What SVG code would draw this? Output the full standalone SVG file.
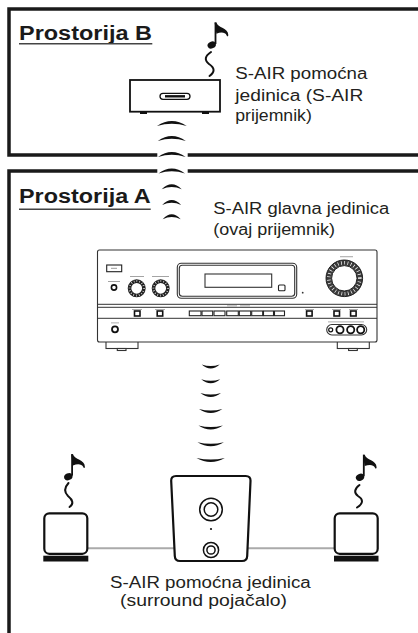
<svg xmlns="http://www.w3.org/2000/svg" width="418" height="633" viewBox="0 0 418 633">
  <style>
    .room { fill: none; stroke: #1a1a1a; stroke-width: 3.5; }
    .title { font-family: "Liberation Sans", Arial, sans-serif; font-weight: bold; font-size: 20px; fill: #1a1a1a; }
    .label { font-family: "Liberation Sans", Arial, sans-serif; font-size: 16px; fill: #231f20; }
    .uline { stroke: #444; stroke-width: 1.6; }
    .wave { fill: #111; }
    .squig { fill: none; stroke: #111; stroke-width: 2; stroke-linecap: round; }
    .box { fill: #fff; stroke: #111; stroke-width: 2.2; }
    .rx { fill: #fff; stroke: #333; stroke-width: 1.1; }
    .rxl { stroke: #333; stroke-width: 1; }
    .btn { fill: #fff; stroke: #222; stroke-width: 1.1; }
    .sq { fill: #fff; stroke: #111; stroke-width: 1.6; }
    .tiny { fill: #9a9a9a; }
    .wire { stroke: #aaa; stroke-width: 2; }
  </style>
  <defs>
    <!-- eighth note, origin at the note head -->
    <g id="note">
      <ellipse cx="0" cy="0" rx="4.3" ry="3.4" transform="rotate(-25)" fill="#111"/>
      <rect x="2.9" y="-22.5" width="1.8" height="21.5" fill="#111"/>
      <path d="M2.9,-22.5 L4.7,-22.5 C6,-17 16.6,-17.5 16.6,-10 C16.6,-8.4 15.2,-8.4 15,-9.6 C13.5,-13 9,-13 4.7,-11.3 Z" fill="#111"/>
    </g>
  </defs>

  <!-- room outlines -->
  <g id="room-b">
    <path class="room" d="M418,9 H9 V155 H157.3 M187.7,155 H418"/>
    <text class="title" x="19" y="40.3" textLength="133" lengthAdjust="spacingAndGlyphs">Prostorija B</text>
    <line class="uline" x1="19" y1="43.8" x2="152.3" y2="43.8"/>
  </g>
  <g id="room-a">
    <path class="room" d="M157.3,171 H9 V633 M187.7,171 H418"/>
    <text class="title" x="19" y="203.3" textLength="131.7" lengthAdjust="spacingAndGlyphs">Prostorija A</text>
    <line class="uline" x1="19" y1="209.2" x2="150.7" y2="209.2"/>
  </g>

  <!-- wireless links -->
  <g id="connectors">
    <!-- link between the main unit and the room B receiver -->
    <path class="wave" d="M157,126 Q171.8,116 186.7,126 Q171.8,121.5 157,126 Z"/>
    <path class="wave" d="M157.8,141 Q171.8,131 185.8,141 Q171.8,136.5 157.8,141 Z"/>
    <path class="wave" d="M158,157 Q171.8,147 185.6,157 Q171.8,152.5 158,157 Z"/>
    <path class="wave" d="M158.5,173.5 Q171.8,163.5 185,173.5 Q171.8,169 158.5,173.5 Z"/>
    <path class="wave" d="M161.7,189.2 Q171.7,179.2 181.7,189.2 Q171.7,184.7 161.7,189.2 Z"/>
    <path class="wave" d="M162.2,204.9 Q171.7,194.9 181.2,204.9 Q171.7,200.4 162.2,204.9 Z"/>
    <path class="wave" d="M162.7,219.2 Q171.7,209.2 180.7,219.2 Q171.7,214.7 162.7,219.2 Z"/>
    <!-- link between the main unit and the surround amplifier -->
    <path class="wave" d="M201.7,364.6 Q210.7,372.6 219.7,364.6 Q210.7,367.6 201.7,364.6 Z"/>
    <path class="wave" d="M201.2,379.2 Q210.7,387.2 220.2,379.2 Q210.7,382.2 201.2,379.2 Z"/>
    <path class="wave" d="M200.4,392.9 Q210.7,400.9 221,392.9 Q210.7,395.9 200.4,392.9 Z"/>
    <path class="wave" d="M199,408.9 Q210.7,416.9 222.4,408.9 Q210.7,411.9 199,408.9 Z"/>
    <path class="wave" d="M198.5,425.5 Q210.7,433.5 222.9,425.5 Q210.7,428.5 198.5,425.5 Z"/>
    <path class="wave" d="M197.5,442.2 Q210.7,450.2 223.9,442.2 Q210.7,445.2 197.5,442.2 Z"/>
    <path class="wave" d="M196.5,458 Q210.7,466 224.9,458 Q210.7,461 196.5,458 Z"/>
    <!-- speaker wires -->
    <line class="wire" x1="88" y1="548.3" x2="174" y2="548.3"/>
    <line class="wire" x1="247.5" y1="548.3" x2="335" y2="548.3"/>
  </g>

  <!-- S-AIR receiver in room B -->
  <g id="unit-b">
    <use href="#note" x="211.7" y="45"/>
    <path class="squig" d="M211,52 C205,56 204,60 209,64 C215,68 215,72 209.5,76"/>
    <rect x="140" y="111" width="7" height="3" fill="#111"/>
    <rect x="202" y="111" width="7" height="3" fill="#111"/>
    <rect x="130" y="80" width="90" height="31.7" fill="#fff" stroke="#111" stroke-width="1.8"/>
    <rect x="160" y="93.3" width="30" height="6" rx="3" fill="#fff" stroke="#111" stroke-width="1.3"/>
    <line x1="165" y1="96.3" x2="185" y2="96.3" stroke="#111" stroke-width="2.4"/>
    <text class="label" x="235.3" y="79.3" textLength="132" lengthAdjust="spacingAndGlyphs">S-AIR pomoćna</text>
    <text class="label" x="235.3" y="101" textLength="128" lengthAdjust="spacingAndGlyphs">jedinica (S-AIR</text>
    <text class="label" x="235.3" y="121" textLength="76.5" lengthAdjust="spacingAndGlyphs">prijemnik)</text>
  </g>

  <!-- main unit (this receiver) -->
  <g id="receiver">
    <text class="label" x="213.3" y="214" textLength="176" lengthAdjust="spacingAndGlyphs">S-AIR glavna jedinica</text>
    <text class="label" x="213.3" y="234.5" textLength="121.7" lengthAdjust="spacingAndGlyphs">(ovaj prijemnik)</text>
    <!-- feet -->
    <rect class="rx" x="106" y="341" width="32" height="7.5"/>
    <rect class="rx" x="117.3" y="348.5" width="8.7" height="2"/>
    <rect class="rx" x="337.3" y="341" width="32" height="7.5"/>
    <rect class="rx" x="348.6" y="348.5" width="8.7" height="2"/>
    <!-- chassis -->
    <rect class="rx" x="97.5" y="250" width="279.5" height="92" rx="2"/>
    <line class="rxl" x1="97.5" y1="304.3" x2="377" y2="304.3"/>
    <line class="rxl" x1="97.5" y1="307.3" x2="377" y2="307.3"/>
    <line class="rxl" x1="97.5" y1="318.3" x2="377" y2="318.3"/>
    <!-- power and small controls -->
    <rect class="btn" x="106.7" y="265" width="15" height="6.7"/>
    <rect class="tiny" x="111" y="267.8" width="6" height="1"/>
    <rect class="tiny" x="108" y="281" width="12" height="0.9"/>
    <circle cx="114" cy="287.5" r="2.6" fill="#fff" stroke="#111" stroke-width="1.6"/>
    <!-- small knobs -->
    <rect class="tiny" x="130" y="276" width="14" height="0.9"/>
    <rect class="tiny" x="152" y="276" width="17" height="0.9"/>
    <circle cx="136.7" cy="288.3" r="7.2" fill="#fff" stroke="#222" stroke-width="3.6"/>
    <circle cx="136.7" cy="288.3" r="7.2" fill="none" stroke="#fff" stroke-width="2" stroke-dasharray="0.6 2.2"/>
    <circle cx="160.7" cy="288.3" r="7.2" fill="#fff" stroke="#222" stroke-width="3.6"/>
    <circle cx="160.7" cy="288.3" r="7.2" fill="none" stroke="#fff" stroke-width="2" stroke-dasharray="0.6 2.2"/>
    <!-- display -->
    <rect class="rx" x="177.3" y="263.3" width="119.4" height="35" rx="4"/>
    <rect class="rx" x="179.3" y="265.3" width="115.4" height="31" rx="3"/>
    <rect class="rx" x="205" y="274" width="66.7" height="13.3"/>
    <rect class="btn" x="278.5" y="285" width="6.5" height="5.7" rx="1"/>
    <circle cx="302.7" cy="292.7" r="0.9" fill="#333"/>
    <!-- volume knob -->
    <rect class="tiny" x="340" y="256.3" width="13" height="0.9"/>
    <circle cx="344.3" cy="278.3" r="15.5" fill="#fff" stroke="#3a3a3a" stroke-width="5.6"/>
    <circle cx="344.3" cy="278.3" r="15.5" fill="none" stroke="#fff" stroke-width="3.6" stroke-dasharray="0.7 2.6"/>
    <circle cx="344.3" cy="278.3" r="18.3" fill="none" stroke="#222" stroke-width="1"/>
    <circle cx="344.3" cy="278.3" r="12.7" fill="none" stroke="#222" stroke-width="1"/>
    <!-- button row -->
    <rect class="tiny" x="132" y="309" width="10" height="0.8"/>
    <rect class="tiny" x="155" y="309" width="10" height="0.8"/>
    <rect class="tiny" x="227" y="305.5" width="10" height="0.8"/>
    <rect class="tiny" x="240" y="305.5" width="10" height="0.8"/>
    <rect class="tiny" x="305" y="309" width="9" height="0.8"/>
    <rect class="tiny" x="332" y="309" width="9" height="0.8"/>
    <rect class="tiny" x="349" y="309" width="9" height="0.8"/>
    <rect class="sq" x="134.5" y="311" width="5.5" height="5"/>
    <rect class="sq" x="157.2" y="311" width="5.5" height="5"/>
    <rect class="btn" x="189.3" y="311" width="11.7" height="4.7"/>
    <rect class="btn" x="202" y="311" width="10.7" height="4.7"/>
    <rect class="btn" x="214" y="311" width="11" height="4.7"/>
    <rect class="btn" x="226.7" y="311" width="11.6" height="4.7"/>
    <rect class="btn" x="239.3" y="311" width="11.4" height="4.7"/>
    <rect class="btn" x="251.7" y="311" width="11" height="4.7"/>
    <rect class="btn" x="263.5" y="311" width="10" height="4.7"/>
    <rect class="btn" x="274.5" y="311" width="10" height="4.7"/>
    <rect class="sq" x="306.6" y="311" width="5.5" height="5"/>
    <rect class="sq" x="334" y="311" width="5.5" height="5"/>
    <rect class="sq" x="350.6" y="311" width="5.5" height="5"/>
    <!-- jacks -->
    <rect class="tiny" x="111" y="322.5" width="8" height="0.8"/>
    <circle cx="115" cy="329.3" r="3" fill="#fff" stroke="#111" stroke-width="1.8"/>
    <rect class="tiny" x="328" y="321.5" width="36" height="0.8"/>
    <rect class="rx" x="326.7" y="324.5" width="40" height="10.5" rx="5.2"/>
    <circle cx="330.7" cy="329.8" r="2" fill="#fff" stroke="#111" stroke-width="1.2"/>
    <circle cx="340" cy="329.8" r="3.6" fill="#fff" stroke="#111" stroke-width="1.8"/>
    <circle cx="350.7" cy="329.8" r="3.6" fill="#fff" stroke="#111" stroke-width="1.8"/>
    <circle cx="360.7" cy="329.8" r="3.6" fill="#fff" stroke="#111" stroke-width="1.8"/>
  </g>

  <!-- left surround speaker -->
  <g id="speaker-left">
    <use href="#note" x="68.3" y="476.7"/>
    <path class="squig" d="M68.5,483 C64,488 64,492 68,496 C73,500 74,504 69.5,507"/>
    <rect class="box" x="44.3" y="513.3" width="43" height="40.5" rx="5"/>
    <rect x="43.3" y="555.7" width="45" height="5.8" fill="#111"/>
  </g>

  <!-- right surround speaker -->
  <g id="speaker-right">
    <use href="#note" x="360" y="477.3"/>
    <path class="squig" d="M359.5,485 C354,489 354,493 358,496 C363,499 364,503 357,507.5"/>
    <rect class="box" x="334.7" y="513.3" width="43" height="40.5" rx="5"/>
    <rect x="334" y="555.7" width="44.5" height="5.8" fill="#111"/>
  </g>

  <!-- surround amplifier (S-AIR sub unit) -->
  <g id="surround-amp">
    <path class="box" d="M176,476 H245.7 Q250.7,476 250.5,481 L247.2,556 Q247,561 242,561 H180 Q175,561 174.8,556 L171.2,481 Q171,476 176,476 Z"/>
    <circle cx="211" cy="509.5" r="11.3" fill="#fff" stroke="#111" stroke-width="1.5"/>
    <circle cx="211" cy="509.5" r="6.8" fill="#fff" stroke="#111" stroke-width="1.5"/>
    <circle cx="211" cy="529" r="1.1" fill="#111"/>
    <circle cx="211" cy="550" r="7.6" fill="#fff" stroke="#111" stroke-width="1.5"/>
    <circle cx="211" cy="550" r="4.1" fill="#fff" stroke="#111" stroke-width="1.5"/>
    <text class="label" x="110" y="587.7" textLength="200.7" lengthAdjust="spacingAndGlyphs">S-AIR pomoćna jedinica</text>
    <text class="label" x="120" y="606" textLength="167" lengthAdjust="spacingAndGlyphs">(surround pojačalo)</text>
  </g>
</svg>
